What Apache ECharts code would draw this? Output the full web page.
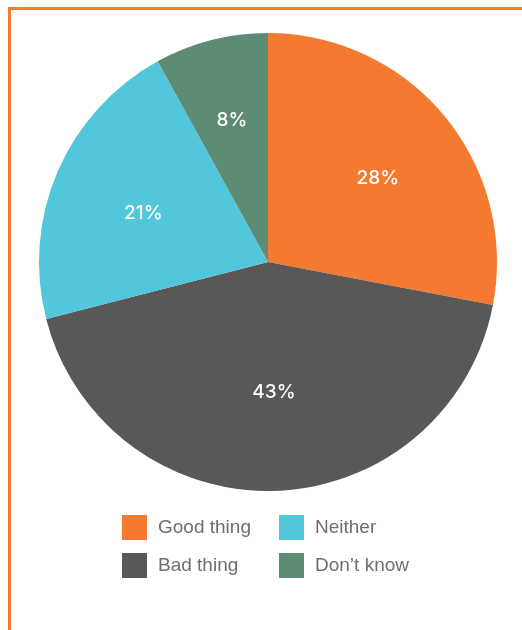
<!DOCTYPE html>
<html>
<head>
<meta charset="utf-8">
<script src="https://cdn.jsdelivr.net/npm/echarts@6/dist/echarts.min.js"></script>
<style>
  html, body { margin: 0; padding: 0; background: #ffffff; }
  #wrap { position: relative; width: 522px; height: 630px; overflow: hidden; }
  #frame { position: absolute; left: 8px; top: 7px; right: -10px; bottom: -10px;
           border-top: 3px solid #F47B30; border-left: 3px solid #F47B30; }
  #chart { position: absolute; left: 0; top: 0; width: 522px; height: 630px; }
</style>
</head>
<body>
<div id="wrap">
  <div id="frame"></div>
  <div id="chart"></div>
</div>
<script>
// Survey answers (percent of respondents)
const categories = ['Good thing', 'Bad thing', 'Neither', 'Don\u2019t know'];
const values = [28, 43, 21, 8];
const legendColumnA = ['Good thing', 'Bad thing'];
const legendColumnB = ['Neither', 'Don\u2019t know'];

const sliceColors = ['#F47A31', '#595856', '#52C7DB', '#5E8B74'];
// distance of each percentage label from the label anchor point, in px
const labelDistance = [137, 121, 135, 150];

const pieCenter = [268, 262];
const labelCenter = [270, 268];
const pieRadius = 229;

const pieData = categories.map((name, i) => ({ name: name, value: values[i] }));

const legendBase = {
  top: 515,
  padding: 0,
  orient: 'vertical',
  icon: 'rect',
  itemWidth: 25,
  itemHeight: 25,
  itemGap: 13,
  selectedMode: false,
  textStyle: {
    fontFamily: 'Liberation Sans, Arial, sans-serif',
    fontSize: 19,
    color: '#6d6e70',
    padding: [0, 0, 0, 6]
  }
};

// one transparent pie per slice, sized so that its "inside" label
// (drawn at half the radius) lands at the wanted distance
const labelSeries = categories.map((name, k) => ({
  type: 'pie',
  center: labelCenter,
  radius: [0, labelDistance[k] * 2],
  startAngle: 90,
  clockwise: true,
  silent: true,
  legendHoverLink: false,
  itemStyle: { color: 'rgba(0,0,0,0)', borderWidth: 0 },
  label: {
    show: true,
    position: 'inside',
    formatter: '{c}%',
    color: '#ffffff',
    fontFamily: 'Inter, Roboto, Liberation Sans, sans-serif',
    fontWeight: 500,
    fontSize: 19
  },
  labelLine: { show: false },
  data: categories.map((n, i) => ({
    name: n,
    value: values[i],
    label: { show: i === k }
  }))
}));

const chart = echarts.init(document.getElementById('chart'), null, { renderer: 'canvas' });

chart.setOption({
  animation: false,
  color: sliceColors,
  legend: [
    Object.assign({}, legendBase, { data: legendColumnA, left: 122 }),
    Object.assign({}, legendBase, { data: legendColumnB, left: 279 })
  ],
  series: [
    {
      // filled slices
      type: 'pie',
      center: pieCenter,
      radius: [0, pieRadius],
      startAngle: 90,
      clockwise: true,
      silent: true,
      label: { show: false },
      labelLine: { show: false },
      itemStyle: { borderWidth: 0 },
      data: pieData
    }
  ].concat(labelSeries)
});
</script>
</body>
</html>
